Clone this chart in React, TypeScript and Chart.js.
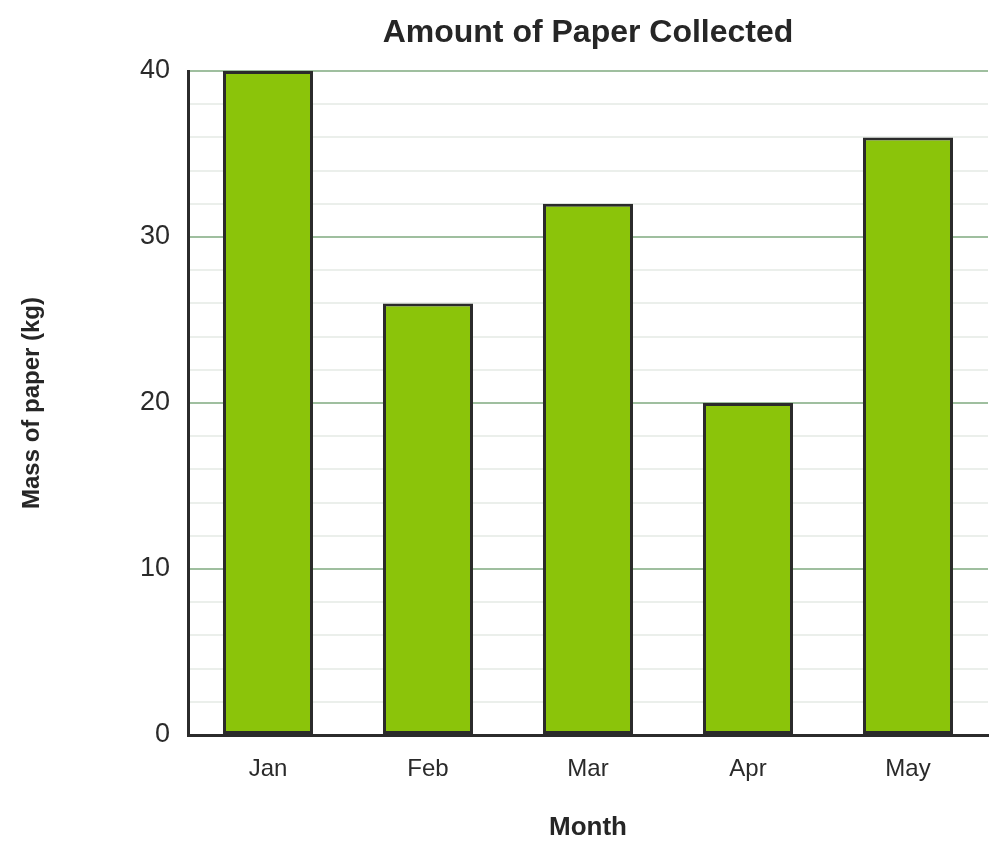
import React, { useEffect, useRef } from "react";
import { Chart, registerables } from "chart.js";

Chart.register(...registerables);

const categories = ["Jan", "Feb", "Mar", "Apr", "May"];
const paperKg = [40, 26, 32, 20, 36];
const yMin = 0;
const yMax = 40;
const yMinorStep = 2;
const yMajorStep = 10;

const chartTitle = "Amount of Paper Collected";
const xTitle = "Month";
const yTitle = "Mass of paper (kg)";

const FONT = "'Liberation Sans', Arial, Helvetica, sans-serif";

const centeredTitle = {
  id: "centeredTitle",
  afterDraw(chart: any) {
    const { ctx, chartArea } = chart;
    ctx.save();
    ctx.font = `bold 32px ${FONT}`;
    ctx.fillStyle = "#262626";
    ctx.textAlign = "center";
    ctx.textBaseline = "middle";
    ctx.fillText(chartTitle, (chartArea.left + chartArea.right) / 2, 33);
    ctx.restore();
  },
};

export default function App() {
  const ref = useRef<HTMLCanvasElement | null>(null);

  useEffect(() => {
    if (!ref.current) return;
    const chart = new Chart(ref.current, {
      type: "bar",
      data: {
        labels: categories,
        datasets: [
          {
            label: yTitle,
            data: paperKg,
            backgroundColor: "#8BC40A",
            borderColor: "#2b2b2b",
            borderWidth: 3,
            borderSkipped: false,
            barPercentage: 0.5625,
            categoryPercentage: 1,
          },
        ],
      },
      plugins: [centeredTitle],
      options: {
        responsive: false,
        animation: false,
        layout: { padding: { top: 71, right: 20, left: 0, bottom: 0 } },
        plugins: {
          legend: { display: false },
          title: { display: false },
          tooltip: { enabled: false },
        },
        scales: {
          x: {
            grid: { display: false },
            border: { display: true, color: "#2b2b2b", width: 3 },
            ticks: {
              color: "#2a2a2a",
              font: { family: FONT, size: 24 },
              padding: 12,
            },
            title: {
              display: true,
              text: xTitle,
              color: "#262626",
              font: { family: FONT, size: 26, weight: "bold" },
              padding: { top: 0, bottom: 12 },
            },
            afterFit(scale: any) {
              scale.height = 120;
            },
          },
          y: {
            min: yMin,
            max: yMax,
            grid: {
              drawTicks: false,
              lineWidth: 2,
              color: (ctx: any) => {
                const v = ctx.tick ? ctx.tick.value : 0;
                if (v === yMin) return "rgba(0,0,0,0)";
                return v % yMajorStep === 0 ? "#9fbf9f" : "#ebefeb";
              },
            },
            border: { display: true, color: "#2b2b2b", width: 3 },
            ticks: {
              stepSize: yMinorStep,
              color: "#2a2a2a",
              font: { family: FONT, size: 27 },
              padding: 18,
              autoSkip: false,
              callback: (value: any) => (Number(value) % yMajorStep === 0 ? String(value) : ""),
            },
            title: {
              display: true,
              text: yTitle,
              color: "#262626",
              font: { family: FONT, size: 24, weight: "bold" },
              padding: { top: 18, bottom: 0 },
            },
            afterFit(scale: any) {
              scale.width = 188;
            },
          },
        },
      },
    });
    return () => chart.destroy();
  }, []);

  return (
    <div style={{ position: "absolute", left: 0, top: 0, width: 1008, height: 855, background: "#fff" }}>
      <canvas ref={ref} width={1008} height={855} style={{ width: 1008, height: 855 }} />
    </div>
  );
}
